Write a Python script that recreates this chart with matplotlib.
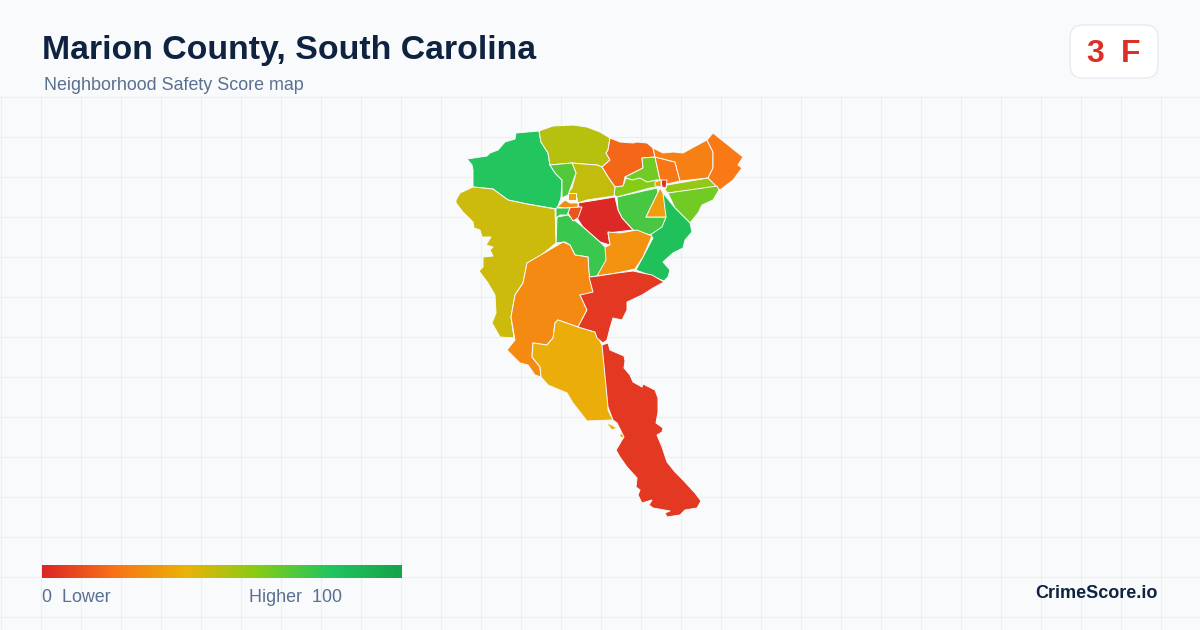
import matplotlib
matplotlib.use("Agg")
import matplotlib.pyplot as plt
import numpy as np
from matplotlib.colors import LinearSegmentedColormap
from matplotlib.patches import FancyBboxPatch, Polygon

TITLE = "Marion County, South Carolina"
SUBTITLE = "Neighborhood Safety Score map"
SCORE = "3"
GRADE = "F"
BRAND = "CrimeScore.io"

# colour scale of the legend
SCALE_STOPS = [0.0, 0.2, 0.4, 0.6, 0.8, 1.0]
SCALE_COLORS = ["#dc2626", "#f97316", "#eab308", "#84cc16", "#22c55e", "#16a34a"]

# neighborhood outlines in image pixels
nw_green = [(467,159),(487,156),(490,153),(498,150),(505,142),(515,139),(516,133),(539,131),(541,142),(548,153),(550,165),(555,173),(562,180),(561,198),(557,209),(527,204),(508,200),(493,189),(473,187),(473,170),(472,165)]
north_olive = [(539,131),(553,126),(573,125),(587,127),(600,132),(610,138),(608,150),(606,153),(610,160),(602,167),(597,165),(583,164),(572,163),(550,165),(548,153),(541,142)]
north_orange = [(610,138),(620,142),(633,143),(637,142),(647,143),(653,148),(655,157),(642,158),(643,168),(633,173),(625,177),(623,186),(615,187),(608,177),(602,167),(610,160),(606,153),(608,150)]
lime_top = [(642,158),(655,157),(660,180),(657,180),(648,182),(640,180),(632,180),(626,178),(625,177),(633,173),(643,168)]
lime_strip = [(615,187),(623,186),(626,178),(632,180),(640,178),(647,182),(657,180),(658,187),(650,188),(617,197),(614,195)]
ne_orange_a = [(655,157),(675,162),(680,181),(667,184),(660,180)]
ne_orange_b = [(653,148),(663,153),(673,152),(683,153),(692,148),(707,140),(713,152),(713,168),(708,178),(680,181),(675,162),(655,157)]
ne_orange_c = [(707,140),(713,133),(743,157),(738,165),(742,168),(733,180),(720,190),(717,188),(708,178),(713,168),(713,152)]
east_strip = [(667,185),(708,178),(717,187),(668,193),(665,190)]
east_lime = [(668,193),(717,186),(719,190),(713,200),(702,205),(698,213),(690,223),(675,208)]
east_green = [(663,193),(675,208),(690,223),(692,232),(685,240),(683,248),(673,253),(663,262),(670,270),(668,277),(664,281),(636,270),(653,238),(650,235),(665,220),(663,198)]
center_green = [(617,197),(657,188),(658,193),(646,217),(666,217),(662,227),(650,235),(633,230),(622,218),(618,210)]
triangle = [(660,188),(663,193),(666,217),(646,217)]
center_red = [(578,203),(615,197),(618,210),(622,218),(633,230),(608,233),(610,245),(600,242),(583,227),(577,218),(580,210)]
center_orange = [(608,232),(620,233),(637,230),(652,236),(643,257),(635,269),(617,273),(597,276),(605,260),(603,248),(610,245)]
south_green = [(557,217),(568,215),(583,227),(600,242),(605,247),(606,260),(597,276),(589,277),(588,257),(575,255),(570,245),(565,242),(556,243)]
west_olive = [(456,200),(460,193),(473,187),(493,189),(508,200),(527,204),(555,209),(556,243),(538,258),(527,263),(523,283),(515,295),(511,317),(514,338),(500,337),(492,323),(496,313),(495,295),(488,283),(479,271),(483,267),(483,257),(493,256),(490,250),(493,247),(486,245),(491,237),(482,237),(480,230),(474,228),(473,222),(463,212),(456,203)]
sw_orange = [(563,242),(570,245),(575,255),(588,257),(589,273),(593,293),(582,297),(580,295),(587,310),(578,327),(558,320),(555,323),(553,338),(547,345),(533,343),(532,357),(540,367),(541,377),(535,375),(528,365),(520,363),(507,350),(515,340),(511,317),(515,295),(523,283),(527,263)]
sw_yellow = [(558,320),(578,327),(595,332),(603,347),(608,403),(608,410),(613,420),(587,421),(573,403),(567,393),(548,385),(541,377),(540,367),(532,357),(533,343),(547,345),(553,338),(555,323)]
islet_a = [(608,423),(617,428),(612,430),(608,425)]
islet_b = [(620,433),(624,435),(624,438),(620,437)]
mid_red = [(589,277),(598,276),(617,273),(633,271),(652,275),(664,282),(653,288),(642,295),(627,302),(627,310),(622,320),(613,318),(610,328),(607,340),(603,343),(597,338),(595,332),(578,327),(587,310),(580,295),(593,292)]
south_red = [(602,345),(608,343),(610,350),(617,353),(624,356),(625,361),(624,368),(630,375),(633,382),(642,387),(643,384),(655,390),(658,398),(658,412),(656,423),(663,428),(662,432),(657,435),(662,447),(667,462),(675,472),(683,480),(695,493),(701,501),(697,508),(685,510),(680,515),(667,517),(665,513),(670,511),(653,508),(649,505),(652,500),(642,503),(638,495),(640,490),(636,487),(637,478),(627,467),(620,457),(616,450),(618,447),(622,440),(624,437),(617,423),(613,420),(608,407)]
center_olive = [(572,163),(583,164),(597,165),(602,167),(608,177),(615,187),(614,196),(587,200),(578,203),(577,198),(568,193),(572,188),(576,173)]
north_lime = [(550,165),(572,163),(576,173),(568,195),(562,198),(562,180),(555,173)]
town_red = [(570,207),(582,207),(578,218),(573,221),(568,213)]
town_yellow = [(568,193),(576,193),(576,200),(568,200)]
town_orange = [(557,207),(565,200),(570,203),(578,203),(578,207),(565,208)]
town_green = [(556,208),(570,208),(567,215),(560,215),(556,218)]
junction_red = [(661,180),(667,180),(666,188),(662,187)]
junction_orange = [(655,182),(661,180),(661,187),(655,186)]

REGIONS = [nw_green, north_olive, north_orange, lime_top, lime_strip, ne_orange_a,
           ne_orange_b, ne_orange_c, east_strip, east_lime, east_green, center_green,
           triangle, center_red, center_orange, south_green, west_olive, sw_orange,
           sw_yellow, islet_a, islet_b, mid_red, south_red, center_olive, north_lime,
           town_red, town_yellow, town_orange, town_green, junction_red, junction_orange]
REGION_SCORES = [80, 50, 17, 64, 60, 21,
                 24, 22, 57, 64, 83, 72,
                 33, 1, 30, 75, 46, 27,
                 38, 38, 38, 5, 5, 48, 70,
                 12, 35, 28, 75, 3, 33]

cmap = LinearSegmentedColormap.from_list("safety", list(zip(SCALE_STOPS, SCALE_COLORS)))

fig = plt.figure(figsize=(12, 6.3), dpi=100, facecolor="#f8fafc")
ax = fig.add_axes([0, 0, 1, 1])
ax.set_axis_off()

# background grid, only below the header
ax.vlines(np.arange(0, 1200, 40) + 0.5, 96, 630, color="#e8f0f4", lw=0.75, zorder=1)
ax.hlines(np.arange(96, 630, 40) + 0.5, 0, 1200, color="#e8f0f4", lw=0.75, zorder=1)

for outline, score in zip(REGIONS, REGION_SCORES):
    ax.add_patch(Polygon(outline, closed=True, facecolor=cmap(score / 100),
                         edgecolor="#f8fafc", lw=0.7, joinstyle="round", zorder=2))

# header
ax.text(42, 47, TITLE, fontsize=24.4, fontweight="bold", color="#0f2340",
        family="Liberation Sans", va="center_baseline", ha="left")
ax.text(44, 84, SUBTITLE, fontsize=12.9, color="#5a7090",
        family="Liberation Sans", va="center_baseline", ha="left")

# grade badge
ax.add_patch(FancyBboxPatch((1082, 37), 64, 29, boxstyle="round,pad=12,rounding_size=13",
                            facecolor="#ffffff", edgecolor="#e2e8f0", lw=0.8, zorder=3))
ax.text(1095, 51, SCORE, fontsize=23, fontweight="bold", color="#dc2f26",
        family="Liberation Sans", va="center_baseline", ha="center", zorder=4)
ax.text(1131, 51, GRADE, fontsize=23, fontweight="bold", color="#dc2f26",
        family="Liberation Sans", va="center_baseline", ha="center", zorder=4)

# legend bar
ax.imshow(np.linspace(0, 1, 360).reshape(1, -1), cmap=cmap, aspect="auto",
          extent=(42, 402, 578, 565), zorder=3)
ax.text(42, 596, "0  Lower", fontsize=12.9, color="#5a7090",
        family="Liberation Sans", va="center_baseline", ha="left")
ax.text(249, 596, "Higher  100", fontsize=12.9, color="#5a7090",
        family="Liberation Sans", va="center_baseline", ha="left")
ax.text(1158, 592, BRAND, fontsize=13, fontweight="bold", color="#0f2340",
        family="Liberation Sans", va="center_baseline", ha="right")

ax.set_xlim(0, 1200)
ax.set_ylim(630, 0)

fig.savefig("out.png", dpi=100, facecolor=fig.get_facecolor())
